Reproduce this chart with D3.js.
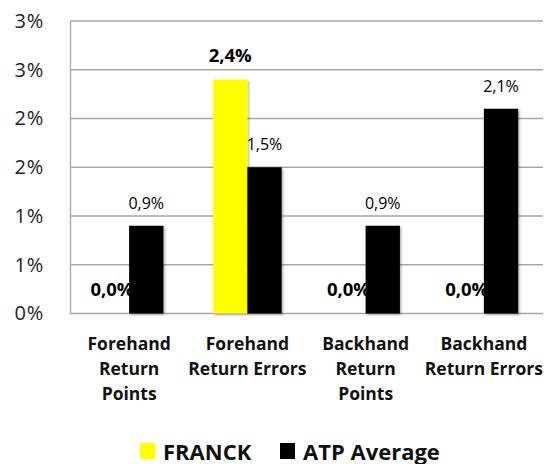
<!DOCTYPE html>
<html>
<head>
<meta charset="utf-8">
<script src="https://cdn.jsdelivr.net/npm/d3@7"></script>
<style>
  body { margin: 0; background: #fff; }
  text { font-family: "Open Sans", sans-serif; }
</style>
</head>
<body>
<svg id="chart"></svg>
<script>
// data
const categories = [
  ["Forehand", "Return", "Points"],
  ["Forehand", "Return Errors"],
  ["Backhand", "Return", "Points"],
  ["Backhand", "Return Errors"]
]
const seriesNames = ["FRANCK", "ATP Average"]
const franck = [0.0, 2.4, 0.0, 0.0]
const atpAverage = [0.9, 1.5, 0.9, 2.1]
const yTicks = [0, 0.5, 1, 1.5, 2, 2.5, 3]
const yTickLabels = ["0%", "1%", "1%", "2%", "2%", "3%", "3%"]

const width = 544, height = 464
const margin = { top: 21, right: 1, bottom: 150.5, left: 70 }
const colors = ["#ffff00", "#000000"]

const svg = d3.select("#chart").attr("width", width).attr("height", height)

const defs = svg.append("defs")
const f = defs.append("filter").attr("id", "shadow")
  .attr("x", "-20%").attr("y", "-20%").attr("width", "150%").attr("height", "150%")
f.append("feDropShadow").attr("dx", 1.5).attr("dy", 1.5).attr("stdDeviation", 1.2)
  .attr("flood-color", "#000").attr("flood-opacity", 0.3)

const x0 = d3.scaleBand()
  .domain(d3.range(categories.length))
  .range([margin.left, width - margin.right])
  .paddingInner(0.42).paddingOuter(0.21)
const x1 = d3.scaleBand().domain([0, 1]).range([0, x0.bandwidth()])

const y = d3.scaleLinear().domain([0, 3]).range([height - margin.bottom, margin.top])

// grid
svg.append("g")
  .selectAll("line").data(yTicks).enter().append("line")
  .attr("x1", margin.left).attr("x2", width - margin.right)
  .attr("y1", d => y(d)).attr("y2", d => y(d))
  .attr("stroke", "#a6a6a6").attr("stroke-width", 1.3)

// y axis
const yAxis = d3.axisLeft(y).tickValues(yTicks)
  .tickFormat((d, i) => yTickLabels[i]).tickSize(0).tickPadding(26)
const ya = svg.append("g").attr("transform", `translate(${margin.left},0)`).call(yAxis)
ya.select(".domain").attr("stroke", "#a6a6a6").attr("stroke-width", 1.3)
ya.selectAll("text").attr("font-size", 20).attr("fill", "#222")
  .attr("letter-spacing", 0.8)
  .style("font-family", "'Open Sans', sans-serif")

// bars
const allSeries = [franck, atpAverage]
const groups = svg.append("g").selectAll("g").data(categories).enter().append("g")
  .attr("transform", (d, i) => `translate(${x0(i)},0)`)

groups.selectAll("rect").data((d, i) => allSeries.map((s, k) => ({ k, v: s[i] })))
  .enter().append("rect")
  .attr("x", d => x1(d.k))
  .attr("width", x1.bandwidth())
  .attr("y", d => y(d.v))
  .attr("height", d => y(0) - y(d.v))
  .attr("fill", d => colors[d.k])
  .attr("filter", "url(#shadow)")

// value labels
groups.selectAll("text.val").data((d, i) => allSeries.map((s, k) => ({ k, v: s[i] })))
  .enter().append("text")
  .attr("class", "val")
  .attr("x", d => x1(d.k) + x1.bandwidth() / 2)
  .attr("y", d => y(d.v) - (d.k === 0 ? 18 : 17))
  .attr("text-anchor", "middle")
  .attr("font-size", d => d.k === 0 ? 18.5 : 16)
  .attr("font-weight", d => d.k === 0 ? "bold" : "normal")
  .attr("fill", "#000")
  .text(d => d.v.toFixed(1).replace(".", ",") + "%")

// category labels
const xl = svg.append("g")
categories.forEach((lines, i) => {
  const t = xl.append("text")
    .attr("x", x0(i) + x0.bandwidth() / 2)
    .attr("y", 350)
    .attr("text-anchor", "middle")
    .attr("font-size", 17.5).attr("font-weight", "bold").attr("fill", "#111")
  lines.forEach((l, j) => {
    t.append("tspan").attr("x", x0(i) + x0.bandwidth() / 2).attr("dy", j === 0 ? 0 : 25).text(l)
  })
})

// legend
const legend = svg.append("g").attr("transform", "translate(140,451)")
const legX = [0, 140]
seriesNames.forEach((n, k) => {
  const g = legend.append("g").attr("transform", `translate(${legX[k]},0)`)
  g.append("rect").attr("x", 0).attr("y", -8).attr("width", 15).attr("height", 16).attr("fill", colors[k])
  g.append("text").attr("x", 23).attr("y", 8.5)
    .attr("font-size", 22).attr("font-weight", "bold").attr("fill", "#111").text(n)
})
</script>
</body>
</html>
